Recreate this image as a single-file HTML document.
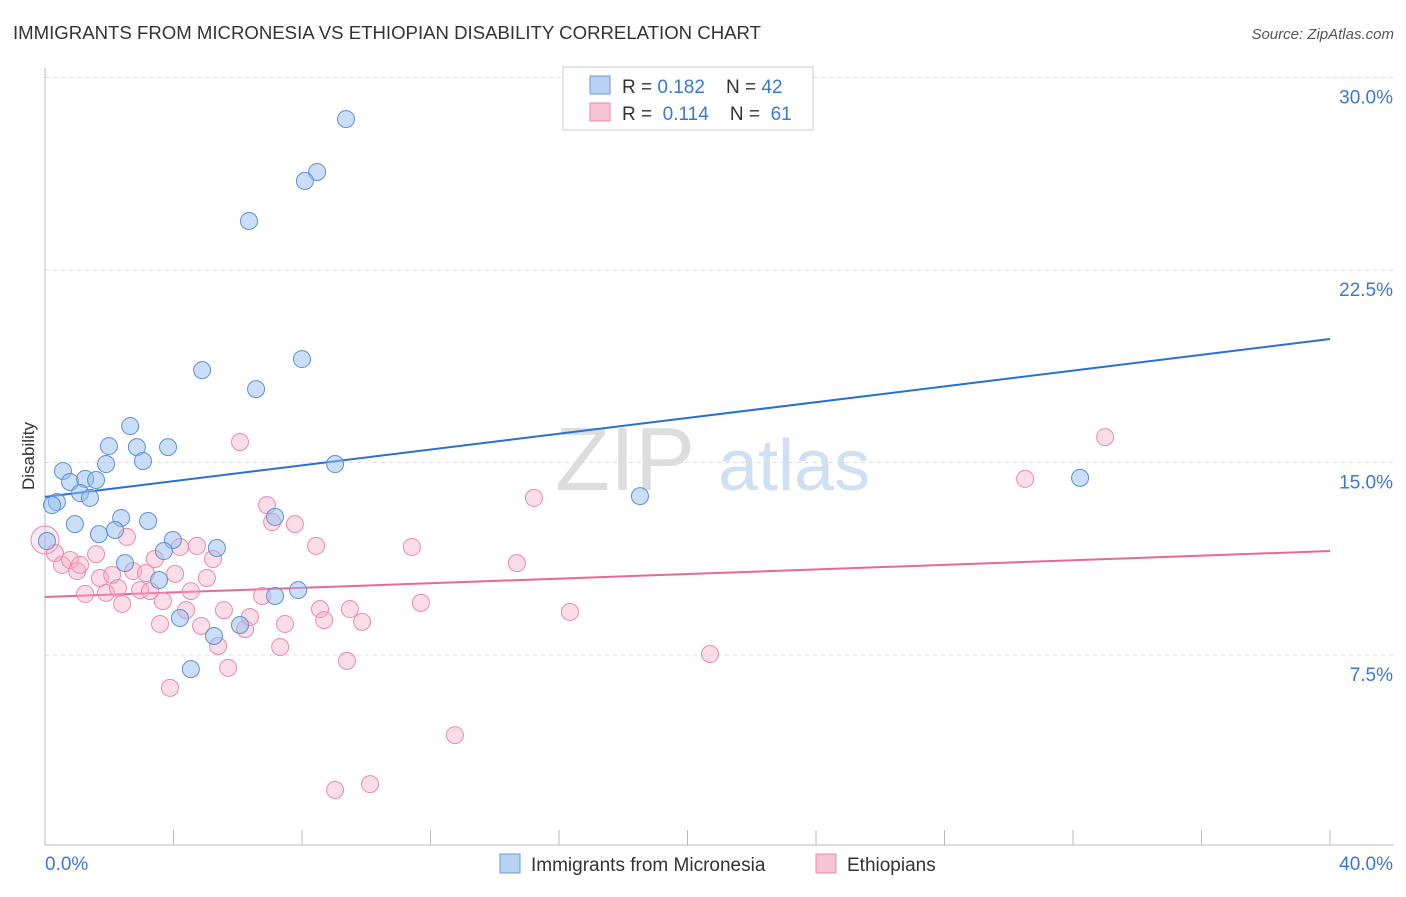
<!DOCTYPE html>
<html><head><meta charset="utf-8"><style>
body{margin:0;background:#fff;font-family:"Liberation Sans",sans-serif;}
svg text{font-family:"Liberation Sans",sans-serif;}
</style></head><body>
<svg id="chart" width="1406" height="892" viewBox="0 0 1406 892" xmlns="http://www.w3.org/2000/svg">
<text x="13" y="39" font-size="18.6" fill="#333">IMMIGRANTS FROM MICRONESIA VS ETHIOPIAN DISABILITY CORRELATION CHART</text>
<text x="1394" y="39" font-size="15" fill="#555" text-anchor="end" font-style="italic">Source: ZipAtlas.com</text>
<g>
<text x="555" y="490" font-size="90" fill="#ddd" font-family="Liberation Serif,serif">ZIP</text>
<text x="718" y="490" font-size="72" fill="#cfe0f5">atlas</text>
</g>
<text transform="translate(34,456) rotate(-90)" font-size="17" fill="#333" text-anchor="middle">Disability</text>
<g id="grid"></g><g id="axes"></g><g id="lines"></g><g id="pts"></g>
<g>
<rect x="563" y="67" width="250" height="63" fill="#fff" stroke="#ccc"/>
<rect x="590" y="76" width="20" height="18" fill="#b8d2f4" stroke="#6a9be0"/>
<text x="622" y="93" font-size="19" fill="#333" xml:space="preserve">R = <tspan fill="#3a78d8">0.182</tspan>    N = <tspan fill="#3a78d8">42</tspan></text>
<rect x="590" y="103" width="20" height="18" fill="#f8c4d4" stroke="#ec8aab"/>
<text x="622" y="120" font-size="19" fill="#333" xml:space="preserve">R =  <tspan fill="#3a78d8">0.114</tspan>    N =  <tspan fill="#3a78d8">61</tspan></text>
</g>
<g>
<rect x="500" y="854" width="20" height="19" fill="#b8d2f4" stroke="#6a9be0"/>
<text x="531" y="871" font-size="19" fill="#333">Immigrants from Micronesia</text>
<rect x="816" y="854" width="20" height="19" fill="#f8c4d4" stroke="#ec8aab"/>
<text x="847" y="871" font-size="19" fill="#333">Ethiopians</text>
</g>
</svg>
<script>
const xTicks=[0,40];
const yTicks=[7.5,15,22.5,30];
const blueX=[9.37,8.47,8.09,6.35,8.00,4.89,6.57,2.65,1.99,2.86,3.83,3.05,1.90,9.03,0.56,0.78,1.25,1.59,1.09,1.40,0.37,0.22,18.52,32.22,0.93,2.37,3.21,1.68,2.18,3.98,0.06,3.70,5.35,2.49,3.55,7.16,7.88,4.20,6.07,5.26,4.54,7.16];
const blueY=[28.38,26.32,25.97,24.41,19.03,18.60,17.86,16.42,15.64,15.60,15.60,15.06,14.94,14.94,14.67,14.24,14.36,14.32,13.81,13.62,13.46,13.34,13.69,14.40,12.60,12.84,12.72,12.21,12.37,11.98,11.94,11.55,11.67,11.08,10.42,9.80,10.03,8.94,8.67,8.24,6.95,12.88];
const pinkX=[0,0.31,0.53,0.78,1.00,1.09,1.59,1.25,1.71,1.90,2.09,2.27,2.40,2.55,2.74,2.96,3.14,3.27,3.42,3.58,3.67,3.89,4.05,4.20,4.39,4.54,4.73,4.86,5.04,5.23,5.39,5.57,5.70,6.07,6.23,6.38,6.76,6.91,7.07,7.32,7.47,7.78,8.44,8.56,8.69,9.03,9.40,9.49,9.87,10.12,11.42,11.70,12.76,14.69,15.22,16.34,20.70,30.51,33.00];
const pinkY=[11.98,11.47,11.01,11.20,10.77,11.01,11.43,9.88,10.50,9.92,10.62,10.11,9.49,12.10,10.77,10.03,10.69,9.99,11.24,8.71,9.60,6.22,10.66,11.71,9.25,9.99,11.75,8.63,10.50,11.24,7.85,9.25,7.00,15.80,8.51,8.98,9.80,13.34,12.68,7.81,8.71,12.60,11.75,9.29,8.86,2.24,7.27,9.29,8.79,2.47,11.71,9.53,4.38,11.08,13.62,9.18,7.54,14.36,15.99];
const blueTrend=[13.66,19.81];
const pinkTrend=[9.76,11.55];
const NS="http://www.w3.org/2000/svg";
const sx=v=>45+v/40*1285;
const sy=v=>847.5-v/7.5*192.5;
function mk(tag,attrs,parent){const e=document.createElementNS(NS,tag);for(const k in attrs)e.setAttribute(k,attrs[k]);document.getElementById(parent).appendChild(e);return e;}
yTicks.forEach(t=>{
 const g=mk('line',{x1:45,x2:1394,y1:sy(t),y2:sy(t),stroke:'#ddd','stroke-dasharray':'4,4'},'grid');
 
 
 const l=mk('text',{x:1393,y:sy(t)+26,'font-size':19,fill:'#3a78d8','text-anchor':'end'},'grid');
 l.textContent=t.toFixed(1)+'%';
 
 
});
mk('line',{x1:45,x2:45,y1:68,y2:845,stroke:'#bbb'},'axes');
mk('line',{x1:45,x2:1394,y1:845,y2:845,stroke:'#bbb'},'axes');
for(let i=0;i<=10;i++){mk('line',{x1:sx(i*4),x2:sx(i*4),y1:830,y2:845,stroke:'#bbb'},'axes');}
xTicks.forEach((t,i)=>{
 const l=mk('text',{x:i?1393:45,y:870,'font-size':19,fill:'#3a78d8','text-anchor':i?'end':'start'},'axes');
 l.textContent=t.toFixed(1)+'%';
 
 
});
const bl=mk('line',{x1:sx(0),x2:sx(40),y1:sy(blueTrend[0]),y2:sy(blueTrend[1]),stroke:'#2a6fd6','stroke-width':2},'lines');


const pl=mk('line',{x1:sx(0),x2:sx(40),y1:sy(pinkTrend[0]),y2:sy(pinkTrend[1]),stroke:'#e8689a','stroke-width':2},'lines');


pinkX.forEach((x,i)=>{
 const c=mk('circle',{cx:sx(x),cy:sy(pinkY[i]),r:i===0?14:8.5,fill:i===0?'rgba(245,170,196,0.25)':'rgba(245,170,196,0.4)',stroke:'#ec8aab','stroke-width':1},'pts');
 
 
});
blueX.forEach((x,i)=>{
 const c=mk('circle',{cx:sx(x),cy:sy(blueY[i]),r:8.5,fill:'rgba(150,190,240,0.5)',stroke:'#5b90dc','stroke-width':1},'pts');
 
 
});
</script>
</body></html>
